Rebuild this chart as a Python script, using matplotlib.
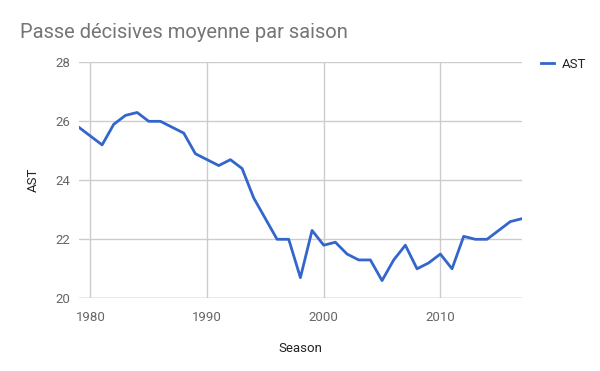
import matplotlib.pyplot as plt

plt.rcParams['font.family'] = ['Roboto', 'DejaVu Sans']

# Average assists per season
seasons = list(range(1979, 2018))
ast = [25.8, 25.5, 25.2, 25.9, 26.2, 26.3, 26.0, 26.0, 25.8, 25.6,
       24.9, 24.7, 24.5, 24.7, 24.4, 23.4, 22.7, 22.0, 22.0, 20.7,
       22.3, 21.8, 21.9, 21.5, 21.3, 21.3, 20.6, 21.3, 21.8, 21.0,
       21.2, 21.5, 21.0, 22.1, 22.0, 22.0, 22.3, 22.6, 22.7]

x_ticks = [1980, 1990, 2000, 2010]
y_ticks = [20, 22, 24, 26, 28]

fig = plt.figure(figsize=(6, 3.71), dpi=100)
ax = fig.add_axes([0.1313, 0.196, 0.7387, 0.636])

ax.plot(seasons, ast, color='#3366cc', linewidth=2, label='AST',
        solid_joinstyle='round', zorder=3)

ax.set_xlim(1979, 2017)
ax.set_ylim(20, 28)
ax.set_xticks(x_ticks)
ax.set_yticks(y_ticks)
ax.grid(True, color='#cccccc', linewidth=1)
ax.set_axisbelow(True)
for s in ax.spines.values():
    s.set_visible(False)
ax.axhline(20, color='#bbbbbb', linewidth=1, zorder=2)
ax.tick_params(length=0, labelsize=9.5, labelcolor='#666666')
ax.tick_params(axis='x', pad=9)
ax.tick_params(axis='y', pad=6)

ax.set_xlabel('Season', fontsize=9.5, color='#222222')
ax.set_ylabel('AST', fontsize=9.5, color='#222222')
# place axis titles in axes coords
ax.xaxis.set_label_coords(0.5, -0.185)
ax.yaxis.set_label_coords(-0.087, 0.5)

fig.text(0.033, 0.913, 'Passe décisives moyenne par saison', fontsize=14.5,
         color='#757575', va='center')

ax.legend(loc='upper left', bbox_to_anchor=(1.015, 1.07), frameon=False,
          fontsize=9.5, labelcolor='#222222', handlelength=1.0,
          handletextpad=0.6)

fig.savefig('out.png', dpi=100)
